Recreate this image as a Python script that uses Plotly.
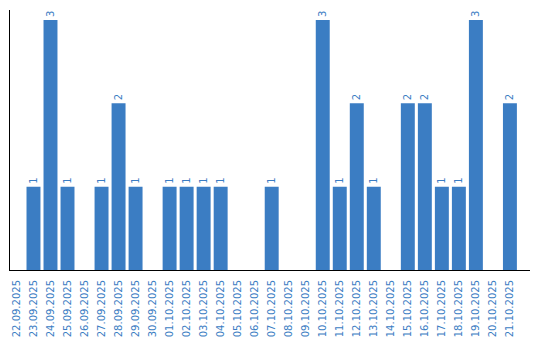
import plotly.graph_objects as go

dates = ["22.09.2025","23.09.2025","24.09.2025","25.09.2025","26.09.2025","27.09.2025",
         "28.09.2025","29.09.2025","30.09.2025","01.10.2025","02.10.2025","03.10.2025",
         "04.10.2025","05.10.2025","06.10.2025","07.10.2025","08.10.2025","09.10.2025",
         "10.10.2025","11.10.2025","12.10.2025","13.10.2025","14.10.2025","15.10.2025",
         "16.10.2025","17.10.2025","18.10.2025","19.10.2025","20.10.2025","21.10.2025"]
counts = [0,1,3,1,0,1,2,1,0,1,1,1,1,0,0,1,0,0,3,1,2,1,0,2,2,1,1,3,0,2]

blue = "#3b7dc3"
labels = [str(c) if c > 0 else "" for c in counts]

fig = go.Figure(go.Bar(
    x=dates, y=counts, marker_color=blue, marker_line_width=0,
    text=labels, textposition="outside", textangle=-90,
    textfont=dict(color=blue, size=10, family="DejaVu Sans"),
    cliponaxis=False, hoverinfo="skip"))

fig.update_layout(
    width=540, height=340, margin=dict(l=10, r=10, t=10, b=70),
    paper_bgcolor="white", plot_bgcolor="white", bargap=0.18,
    showlegend=False, uniformtext=dict(minsize=1, mode="show"),
    xaxis=dict(type="category", range=[-0.38, 30.18], tickangle=-90,
               tickfont=dict(color=blue, size=10, family="DejaVu Sans"),
               showline=True, linecolor="black", linewidth=1,
               ticks="outside", ticklen=5, tickcolor="rgba(0,0,0,0)",
               showgrid=False, zeroline=False, fixedrange=True, automargin=False),
    yaxis=dict(range=[0, 3.12], showticklabels=False, showgrid=False,
               showline=True, linecolor="black", linewidth=1, zeroline=False,
               ticks="", fixedrange=True, automargin=False),
)
fig.write_html("out.html")
